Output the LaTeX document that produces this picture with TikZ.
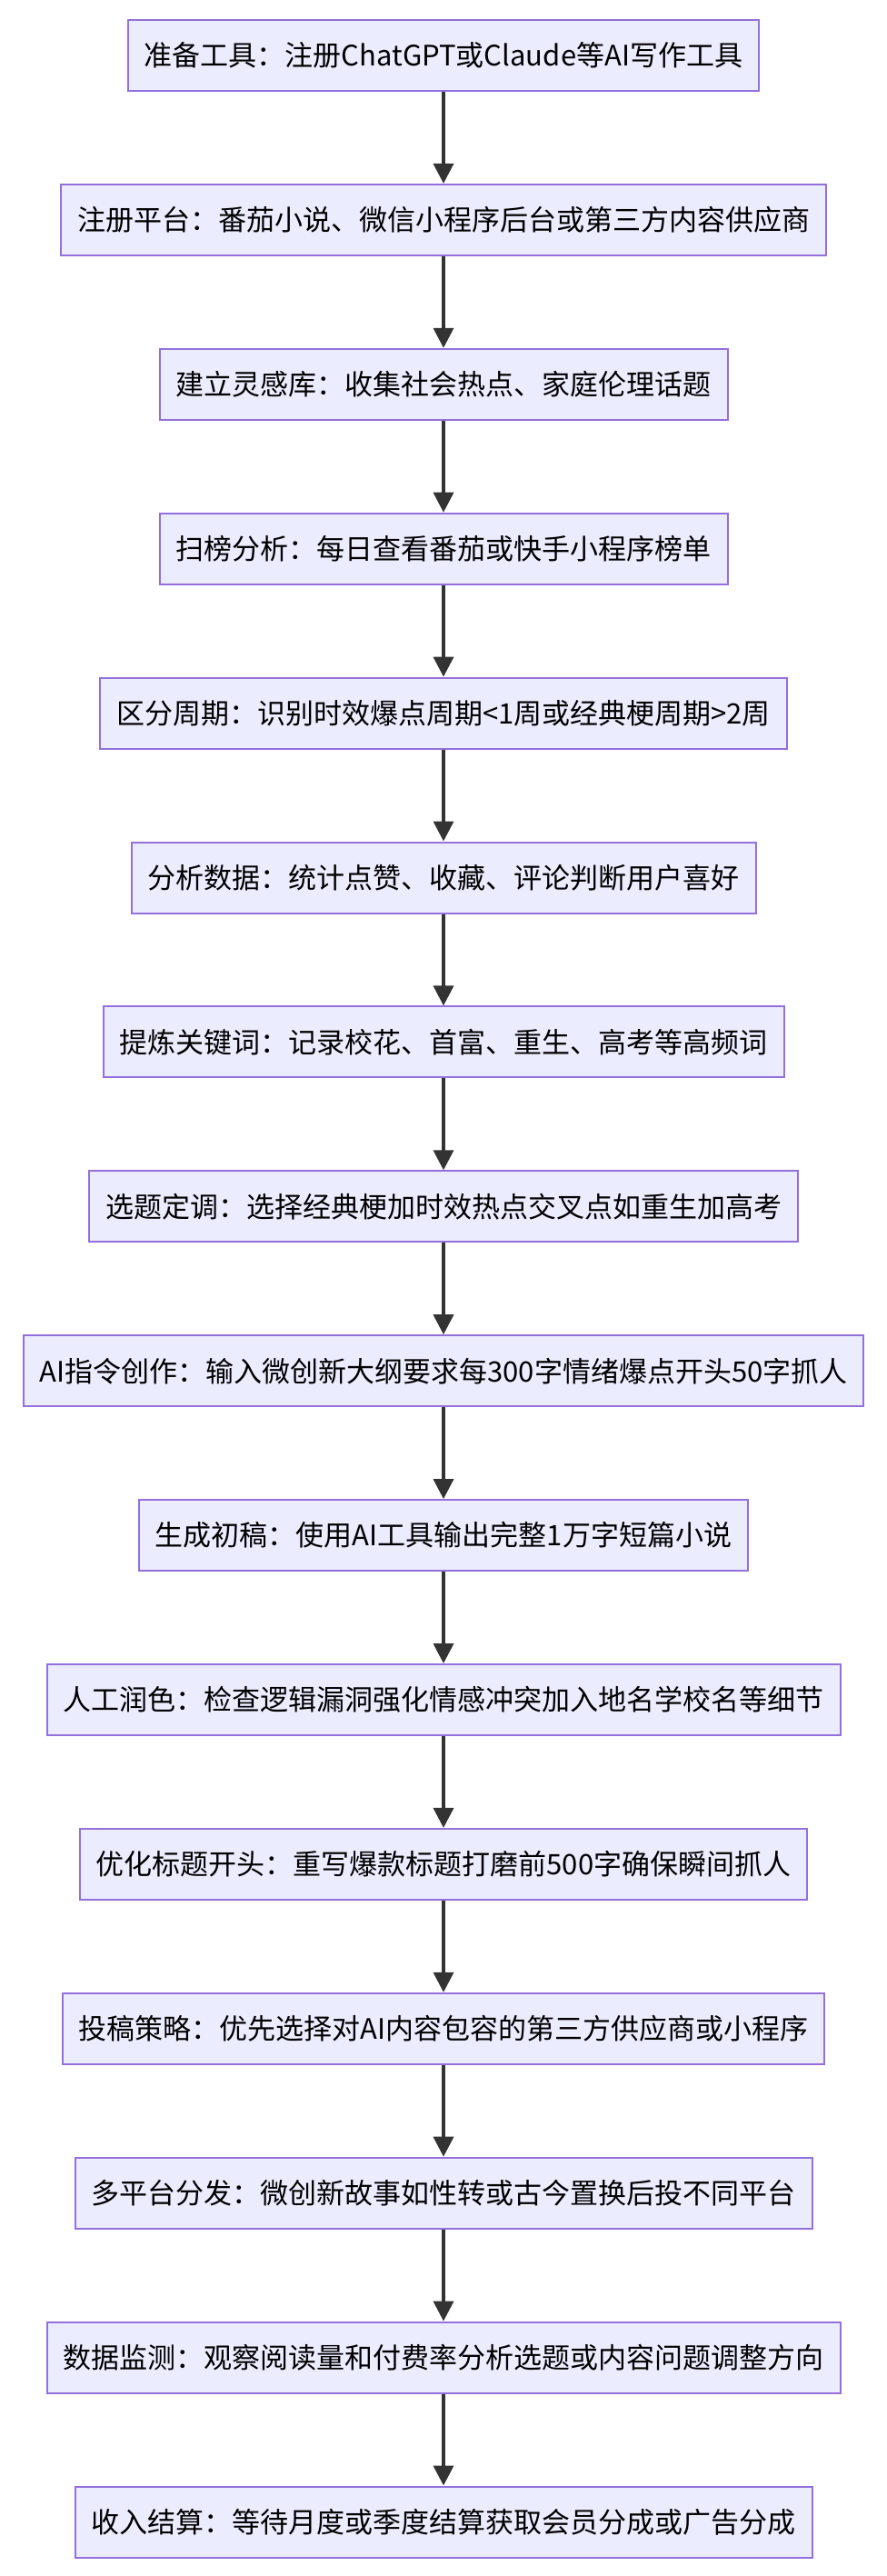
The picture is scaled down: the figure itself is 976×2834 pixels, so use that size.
\documentclass[tikz,border=0pt]{standalone}
\usepackage{fontspec}
\setmainfont{Noto Sans CJK SC}
\usetikzlibrary{arrows.meta}
\begin{document}
\begin{tikzpicture}[x=1pt,y=1pt,
  stepbox/.style={draw=mpurple,fill=mfill,line width=2pt,minimum height=78pt,inner xsep=18pt,font=\fontsize{31}{35}\selectfont},
  conn/.style={draw=mline,line width=3.6pt,-{Triangle[length=22pt,width=22pt]}}]
\definecolor{mpurple}{HTML}{9370DB}
\definecolor{mfill}{HTML}{ECECFF}
\definecolor{mline}{HTML}{333333}
\useasboundingbox (0,0) rectangle (976,-2834);
\foreach \t [count=\i from 0] in {
准备工具：注册ChatGPT或Claude等AI写作工具,
注册平台：番茄小说、微信小程序后台或第三方内容供应商,
建立灵感库：收集社会热点、家庭伦理话题,
扫榜分析：每日查看番茄或快手小程序榜单,
区分周期：识别时效爆点周期<1周或经典梗周期>2周,
分析数据：统计点赞、收藏、评论判断用户喜好,
提炼关键词：记录校花、首富、重生、高考等高频词,
选题定调：选择经典梗加时效热点交叉点如重生加高考,
AI指令创作：输入微创新大纲要求每300字情绪爆点开头50字抓人,
生成初稿：使用AI工具输出完整1万字短篇小说,
人工润色：检查逻辑漏洞强化情感冲突加入地名学校名等细节,
优化标题开头：重写爆款标题打磨前500字确保瞬间抓人,
投稿策略：优先选择对AI内容包容的第三方供应商或小程序,
多平台分发：微创新故事如性转或古今置换后投不同平台,
数据监测：观察阅读量和付费率分析选题或内容问题调整方向,
收入结算：等待月度或季度结算获取会员分成或广告分成}
{\node[stepbox] (n\i) at (488,{-61-180.9*\i}) {\t};}
\foreach \i [evaluate=\i as \j using int(\i+1)] in {0,...,14}
  \draw[conn] (n\i.south) -- (n\j.north);
\end{tikzpicture}
\end{document}
